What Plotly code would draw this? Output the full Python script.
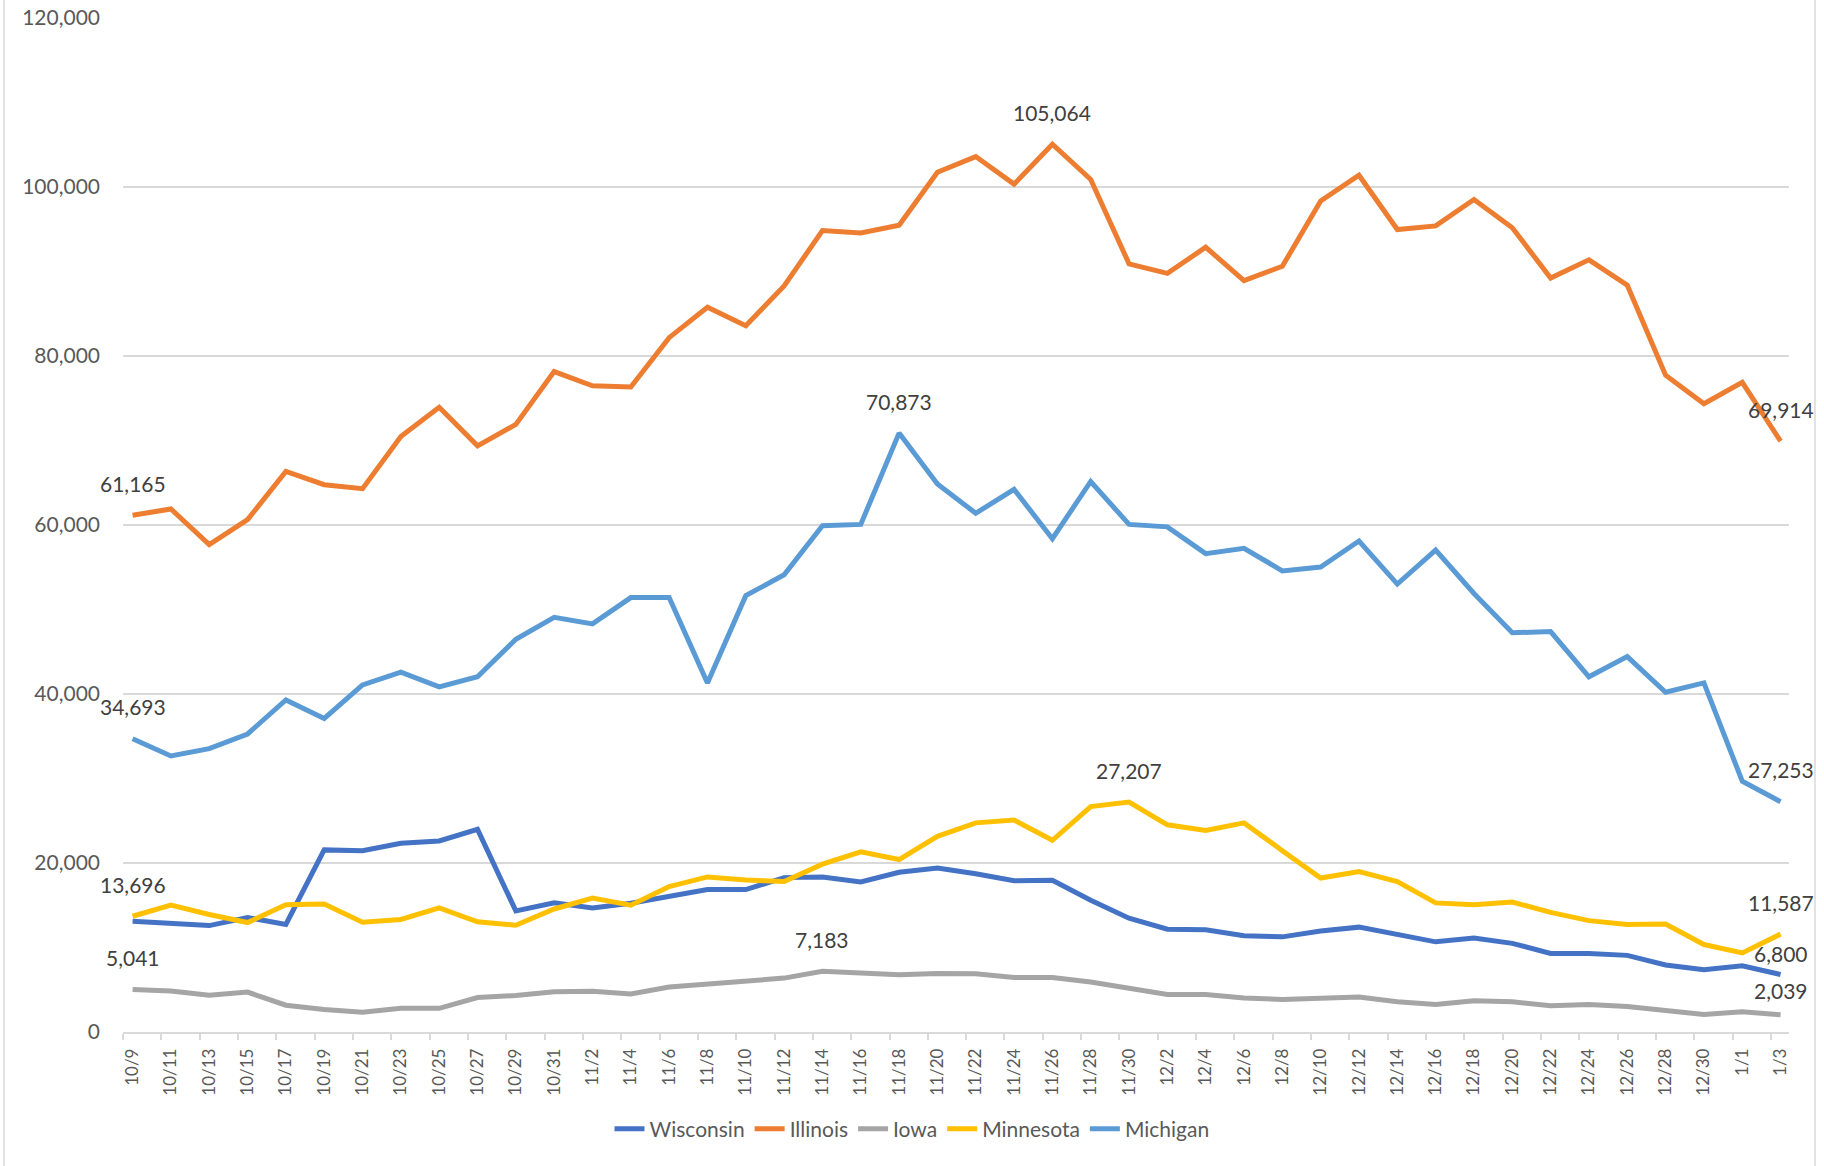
import plotly.graph_objects as go

dates = ["10/9", "10/11", "10/13", "10/15", "10/17", "10/19", "10/21", "10/23", "10/25", "10/27", "10/29", "10/31",
         "11/2", "11/4", "11/6", "11/8", "11/10", "11/12", "11/14", "11/16", "11/18", "11/20", "11/22", "11/24",
         "11/26", "11/28", "11/30",
         "12/2", "12/4", "12/6", "12/8", "12/10", "12/12", "12/14", "12/16", "12/18", "12/20", "12/22", "12/24",
         "12/26", "12/28", "12/30",
         "1/1", "1/3"]

wisconsin = [13100, 12860, 12590, 13550, 12730, 21550, 21460, 22340, 22610, 23980, 14330, 15280,
             14690, 15240, 15970, 16850, 16850, 18270, 18350, 17760, 18900, 19400, 18720, 17900, 17950, 15600, 13460,
             12170, 12090, 11400, 11260, 11950, 12410, 11490, 10670, 11130, 10490, 9300, 9300, 9070, 7930, 7380,
             7830, 6800]
illinois = [61165, 61890, 57670, 60630, 66330, 64770, 64300, 70470, 73940, 69370, 71900, 78160,
            76470, 76340, 82170, 85770, 83570, 88300, 94840, 94550, 95480, 101740, 103600, 100340, 105064, 100890, 90910,
            89780, 92870, 88930, 90620, 98350, 101390, 94970, 95400, 98520, 95180, 89220, 91380, 88380, 77730, 74350,
            76890, 69914]
iowa = [5041, 4860, 4350, 4720, 3170, 2660, 2340, 2800, 2800, 4080, 4320, 4770,
        4810, 4500, 5320, 5690, 5960, 6380, 7183, 7050, 6780, 6920, 6880, 6460, 6460, 5920, 5130,
        4450, 4450, 4030, 3860, 4030, 4130, 3580, 3250, 3710, 3580, 3120, 3250, 3030, 2530, 2070,
        2390, 2039]
minnesota = [13696, 15010, 13910, 12950, 15060, 15150, 13000, 13320, 14690, 13050, 12630, 14560,
             15840, 15010, 17210, 18350, 17990, 17800, 19860, 21330, 20410, 23150, 24750, 25080, 22690, 26680, 27207,
             24520, 23840, 24750, 21460, 18220, 18990, 17800, 15280, 15060, 15380, 14150, 13180, 12730, 12780, 10350,
             9350, 11587]
michigan = [34693, 32660, 33540, 35270, 39300, 37100, 41070, 42590, 40850, 42040, 46480, 49080,
            48300, 51410, 51410, 41310, 51640, 54110, 59910, 60070, 70873, 64850, 61390, 64210, 58380, 65150, 60070,
            59780, 56610, 57250, 54570, 55020, 58100, 53010, 57030, 51900, 47250, 47390, 42040, 44420, 40210, 41310,
            29690, 27253]

series_names = ["Wisconsin", "Illinois", "Iowa", "Minnesota", "Michigan"]
series_values = [wisconsin, illinois, iowa, minnesota, michigan]
series_colors = ["#4472C4", "#ED7D31", "#A5A5A5", "#FFC000", "#5B9BD5"]
# dates whose values carry a data label, per series
labeled_dates = {
    "Wisconsin": ["1/3"],
    "Illinois": ["10/9", "11/26", "1/3"],
    "Iowa": ["10/9", "11/14", "1/3"],
    "Minnesota": ["10/9", "11/30", "1/3"],
    "Michigan": ["10/9", "11/18", "1/3"],
}
label_shift = {("Wisconsin", "1/3"): 21, ("Iowa", "1/3"): 24}

FONT = "Lato, 'Open Sans', sans-serif"
xs = list(range(len(dates)))

fig = go.Figure()
annotations = []
for name, vals, col in zip(series_names, series_values, series_colors):
    fig.add_trace(go.Scatter(
        x=xs, y=vals, name=name, mode="lines",
        line=dict(color=col, width=5),
    ))
    for d in labeled_dates[name]:
        i = dates.index(d)
        annotations.append(dict(
            x=i, y=vals[i], xref="x", yref="y", text=f"{vals[i]:,}",
            showarrow=False, yshift=label_shift.get((name, d), 32),
            xanchor="center", yanchor="middle",
            font=dict(family=FONT, size=21, color="#404040"),
        ))

L, R, T, B = 123, 35, 18, 134
W, H = 1824, 1166
pw = W - L - R
ph = H - T - B

fig.update_layout(
    width=W, height=H,
    autosize=False,
    margin=dict(l=L, r=R, t=T, b=B, autoexpand=False),
    paper_bgcolor="white", plot_bgcolor="white",
    font=dict(family=FONT, color="#595959"),
    showlegend=True,
    legend=dict(
        orientation="h", xref="paper", x=(912 - L) / pw, xanchor="center",
        y=(1032 - 1129) / ph, yanchor="middle",
        font=dict(family=FONT, size=21, color="#595959"),
        traceorder="normal",
    ),
    xaxis=dict(
        range=[-0.25, 43.22],
        tickmode="array", tickvals=xs, ticktext=dates,
        tickangle=-90, ticks="",
        tickfont=dict(family=FONT, size=17, color="#595959"),
        ticklabelstandoff=8,
        showgrid=False, zeroline=False, automargin=False,
        showline=True, linecolor="#d9d9d9", linewidth=1.5,
        minor=dict(ticks="outside", ticklen=6, tickcolor="#d9d9d9", tickwidth=1.5,
                   tick0=-0.25, dtick=1, showgrid=False),
    ),
    yaxis=dict(
        range=[0, 120000], tickvals=[0, 20000, 40000, 60000, 80000, 100000, 120000],
        tickformat=",d", ticks="", automargin=False,
        tickfont=dict(family=FONT, size=21, color="#595959"),
        ticklabelstandoff=22,
        showgrid=True, gridcolor="#d9d9d9", gridwidth=1.5,
        zeroline=False, showline=False,
    ),
    annotations=annotations,
    shapes=[
        dict(type="line", xref="paper", yref="paper",
             x0=(4 - L) / pw, x1=(4 - L) / pw, y0=-0.2, y1=1.1,
             line=dict(color="#d9d9d9", width=1.5)),
        dict(type="line", xref="paper", yref="paper",
             x0=(1815 - L) / pw, x1=(1815 - L) / pw, y0=-0.2, y1=1.1,
             line=dict(color="#d9d9d9", width=1.5)),
    ],
)

fig.write_html(
    "out.html",
    config={"displayModeBar": False},
    post_script="document.body.style.margin='0';document.body.style.overflow='hidden';",
)
